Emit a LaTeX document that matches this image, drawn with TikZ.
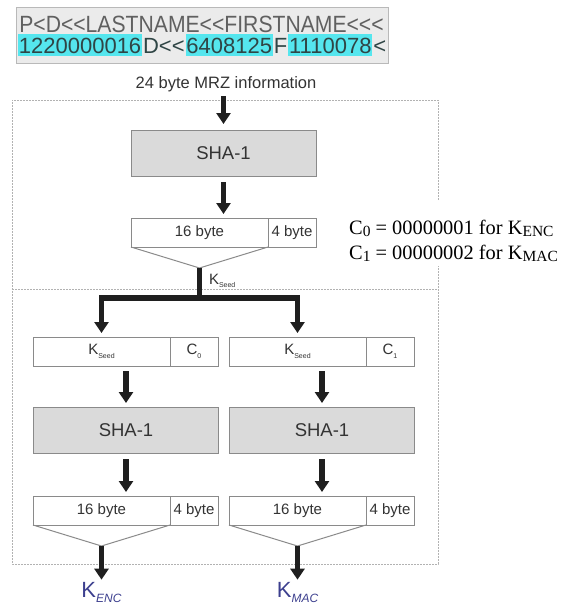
\documentclass[tikz,border=0pt]{standalone}
\usepackage{fontspec}
\setmainfont{Liberation Serif}
\setsansfont{Liberation Sans}
\newfontfamily\mrzfont[FakeStretch=0.9]{Liberation Sans}
\newfontfamily\mrzplain{Liberation Sans}
\usetikzlibrary{arrows.meta,positioning,calc}

\definecolor{box edge}{HTML}{8A8A8A}
\definecolor{hash fill}{HTML}{DADADA}
\definecolor{mrz cyan}{HTML}{55E6EE}
\definecolor{mrz back}{HTML}{EBEBEB}
\definecolor{mrz ink}{HTML}{2F4545}
\definecolor{label gray}{HTML}{333333}
\definecolor{key blue}{HTML}{3C3F8E}

\newcommand{\fsz}[1]{\fontsize{#1}{#1}\selectfont}
\newcommand{\tinyidx}[1]{\raisebox{-0.45ex}{\fsz{7}#1}}
\newcommand{\keyidx}[1]{\raisebox{-0.5ex}{\fsz{12}\itshape #1}}
\newcommand{\notesub}[1]{\raisebox{-0.25ex}{\fsz{15.5}#1}}

\tikzset{
  frame/.style={draw=gray!60, line width=1pt, dash pattern=on 2pt off 1pt},
  funnel/.style={draw=box edge, line width=1pt}
  }
\tikzstyle{hashbox} = [rectangle, draw=box edge, fill=hash fill, line width=1pt, minimum width=185pt, minimum height=46pt, font=\sffamily\fsz{18.5}, text=label gray]
\tikzstyle{cell} = [rectangle, draw=box edge, fill=white, line width=1pt, outer sep=0pt, inner sep=0pt, minimum height=29pt, font=\sffamily\fsz{15}, text=label gray]
\tikzstyle{mrzcell} = [rectangle, outer sep=0pt, inner xsep=0.9pt, inner ysep=3pt, text height=16pt, text depth=0pt, font=\mrzplain\fsz{22}, text=mrz ink]
\tikzstyle{fatline} = [draw=black!88, line width=5.5pt]
\tikzstyle{fatarrow} = [fatline, -{Triangle[width=14pt,length=11pt]}]
\tikzstyle{steparrow} = [fatarrow, shorten <=5pt, shorten >=4pt]
\tikzstyle{keylabel} = [font=\sffamily\fsz{22}, text=key blue, inner sep=1pt]
\tikzstyle{note} = [font=\rmfamily\fsz{20.4}, inner sep=2pt, text=black]

\begin{document}
\begin{tikzpicture}[x=1pt, y=1pt]
    \useasboundingbox (0,0) rectangle (569,-606);

    % machine readable zone
    \node[draw=gray!55, fill=mrz back, line width=1pt, minimum width=372pt, minimum height=56pt] (mrz) at (202,-35) {};
    \node[font=\mrzfont\fsz{23.5}, text=gray!75!black, anchor=base] (mrztop) at (201.5,-32) {P<D<<LASTNAME<<FIRSTNAME<<<};
    \node[mrzcell, fill=mrz cyan, anchor=west] (docno) at (18,-45) {1220000016};
    \node[mrzcell, right=0pt of docno] (nat) {D<<};
    \node[mrzcell, fill=mrz cyan, right=0pt of nat] (birth) {6408125};
    \node[mrzcell, right=0pt of birth] (sex) {F};
    \node[mrzcell, fill=mrz cyan, right=0pt of sex] (expiry) {1110078};
    \node[mrzcell, right=0pt of expiry] (filler) {<};
    \node[font=\sffamily\fsz{16.5}, text=label gray] (mrzcap) at (226,-84) {24 byte MRZ information};

    % dotted frame, open on the right for the notes
    \draw[frame] (438,-200) -- (438,-100) -- (12,-100) -- (12,-564) -- (438,-564) -- (438,-266);
    \draw[frame] (12,-289) -- (438,-289);

    \node[note, anchor=base west] (cnote0) at (347,-234) {C\notesub{0} = 00000001 for K\notesub{ENC}};
    \node[note, anchor=base west] (cnote1) at (347,-259) {C\notesub{1} = 00000002 for K\notesub{MAC}};

    % seed derivation
    \node[hashbox] (shatop) at (223.5,-153.5) {SHA-1};
    \node[cell, minimum width=137pt, anchor=west] (topfull) at (131,-232.5) {16 byte};
    \node[cell, minimum width=48pt, right=0pt of topfull] (toptail) {4 byte};
    \coordinate (seed) at ($(topfull.south)+(0,-21)$);
    \coordinate (split) at ($(seed)+(0,-30)$);

    \draw[fatarrow, shorten <=1pt, shorten >=6pt] (shatop.north |- mrzcap.south) -- (shatop.north);
    \draw[steparrow] (shatop.south) -- (shatop.south |- topfull.north);
    \draw[funnel] (topfull.south west) -- (seed) -- (topfull.south east);
    \draw[fatline] (seed) -- (split);
    \node[font=\sffamily\fsz{15}, text=label gray, anchor=west] (seedlbl) at ($(seed)+(6,-13)$) {K\tinyidx{Seed}};

    % one branch per key
    \foreach \i/\x/\kname in {0/33/ENC, 1/229/MAC} {
      \node[cell, minimum width=137pt, anchor=west] (seedin\i) at (\x,-351.5) {K\tinyidx{Seed}};
      \node[cell, minimum width=48pt, right=0pt of seedin\i] (ctr\i) {C\tinyidx{\i}};
      \node[hashbox, anchor=north west] (hash\i) at (\x,-407) {SHA-1};
      \node[cell, minimum width=137pt, anchor=west] (full\i) at (\x,-510.5) {16 byte};
      \node[cell, minimum width=48pt, right=0pt of full\i] (tail\i) {4 byte};
      \coordinate (apex\i) at ($(full\i.south)+(0,-21)$);
      \node[keylabel, anchor=base] (key\i) at ($(apex\i)+(0,-51)$) {K\keyidx{\kname}};

      \draw[fatarrow, shorten >=4pt] (split) -| (seedin\i.north);
      \draw[steparrow] (hash\i.north |- seedin\i.south) -- (hash\i.north);
      \draw[steparrow] (hash\i.south) -- (hash\i.south |- full\i.north);
      \draw[funnel] (full\i.south west) -- (apex\i) -- (full\i.south east);
      \draw[fatarrow, shorten >=1pt] (apex\i) -- (key\i.north);
    }

\end{tikzpicture}
\end{document}
